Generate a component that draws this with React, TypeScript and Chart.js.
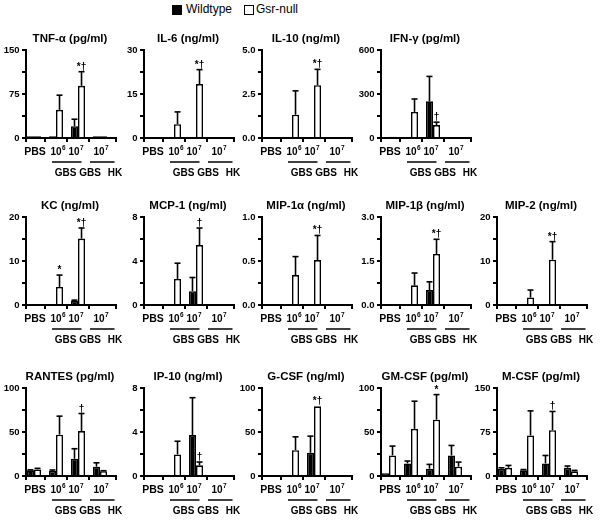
import React, { useEffect, useRef } from 'react';
import { Chart, registerables } from 'chart.js';

Chart.register(...registerables);

const FONT = "'Liberation Sans', Arial, Helvetica, sans-serif";

// ---------- shared labels ----------
const categories = ['PBS', '10⁶', '10⁷', '10⁷'];
const groupLabels = ['GBS', 'GBS', 'HK'];
const seriesNames = ['Wildtype', 'Gsr-null'];

// ---------- data (mean, SD, significance marks) ----------
const tnfWt = [3, 3, 20, 3];
const tnfWtSd = [0, 0, 12, 0];
const tnfNull = [3, 48, 89, 3];
const tnfNullSd = [0, 25, 24, 0];
const tnfMarks = ['', '', '*†', ''];

const il6Wt = [null, null, 0.3, null];
const il6WtSd = [0, 0, 0, 0];
const il6Null = [null, 4.7, 18.4, null];
const il6NullSd = [0, 4.2, 4.9, 0];
const il6Marks = ['', '', '*†', ''];

const il10Wt = [null, null, null, null];
const il10WtSd = [0, 0, 0, 0];
const il10Null = [null, 1.32, 3.0, null];
const il10NullSd = [0, 1.36, 0.9, 0];
const il10Marks = ['', '', '*†', ''];

const ifnWt = [5, null, 250, 3];
const ifnWtSd = [0, 0, 170, 0];
const ifnNull = [8, 178, 88, 2];
const ifnNullSd = [0, 88, 20, 0];
const ifnMarks = ['', '', '†', ''];

const kcWt = [null, null, 0.9, null];
const kcWtSd = [0, 0, 0.2, 0];
const kcNull = [null, 4.1, 15.1, null];
const kcNullSd = [0, 2.7, 2.4, 0];
const kcMarks = ['', '*', '*†', ''];

const mcp1Wt = [null, null, 1.26, null];
const mcp1WtSd = [0, 0, 1.24, 0];
const mcp1Null = [null, 2.37, 5.45, null];
const mcp1NullSd = [0, 1.43, 1.55, 0];
const mcp1Marks = ['', '', '†', ''];

const mip1aWt = [null, null, null, null];
const mip1aWtSd = [0, 0, 0, 0];
const mip1aNull = [null, 0.34, 0.51, null];
const mip1aNullSd = [0, 0.21, 0.28, 0];
const mip1aMarks = ['', '', '*†', ''];

const mip1bWt = [null, null, 0.51, null];
const mip1bWtSd = [0, 0, 0.28, 0];
const mip1bNull = [null, 0.67, 1.74, null];
const mip1bNullSd = [0, 0.42, 0.5, 0];
const mip1bMarks = ['', '', '*†', ''];

const mip2Wt = [null, null, null, null];
const mip2WtSd = [0, 0, 0, 0];
const mip2Null = [null, 1.7, 10.3, null];
const mip2NullSd = [0, 1.7, 4.1, 0];
const mip2Marks = ['', '', '*†', ''];

const rantesWt = [6.4, 5.7, 19.6, 10.6];
const rantesWtSd = [0.6, 1.1, 11.4, 4.4];
const rantesNull = [7.5, 47, 51, 5.5];
const rantesNullSd = [1.2, 21, 20, 0.5];
const rantesMarks = ['', '', '†', ''];

const ip10Wt = [null, null, 3.72, null];
const ip10WtSd = [0, 0, 3.4, 0];
const ip10Null = [null, 1.96, 0.97, null];
const ip10NullSd = [0, 1.2, 0.3, 0];
const ip10Marks = ['', '', '†', ''];

const gcsfWt = [null, null, 26.4, null];
const gcsfWtSd = [0, 0, 18.9, 0];
const gcsfNull = [null, 29.4, 79.2, null];
const gcsfNullSd = [0, 15.1, 0, 0];
const gcsfMarks = ['', '', '*†', ''];

const gmcsfWt = [3, 14.3, 8.3, 23.4];
const gmcsfWtSd = [0, 2.7, 4.9, 11.3];
const gmcsfNull = [23.4, 53.6, 64, 10.6];
const gmcsfNullSd = [10.6, 31.4, 28.5, 5.2];
const gmcsfMarks = ['', '', '*', ''];

const mcsfWt = [12.5, 9.6, 21.5, 14];
const mcsfWtSd = [1.5, 1.4, 13.5, 3];
const mcsfNull = [14, 69, 78, 8];
const mcsfNullSd = [4, 42, 32, 1.6];
const mcsfMarks = ['', '', '†', ''];

// ---------- panels ----------
const panels: any[] = [
  { title: 'TNF-α (pg/ml)', max: 150, dec: 0, wt: tnfWt, wtSd: tnfWtSd, nul: tnfNull, nulSd: tnfNullSd, marks: tnfMarks, row: 0, col: 0 },
  { title: 'IL-6 (ng/ml)', max: 30, dec: 0, wt: il6Wt, wtSd: il6WtSd, nul: il6Null, nulSd: il6NullSd, marks: il6Marks, row: 0, col: 1 },
  { title: 'IL-10 (ng/ml)', max: 5, dec: 1, wt: il10Wt, wtSd: il10WtSd, nul: il10Null, nulSd: il10NullSd, marks: il10Marks, row: 0, col: 2 },
  { title: 'IFN-γ (pg/ml)', max: 600, dec: 0, wt: ifnWt, wtSd: ifnWtSd, nul: ifnNull, nulSd: ifnNullSd, marks: ifnMarks, row: 0, col: 3 },
  { title: 'KC (ng/ml)', max: 20, dec: 0, wt: kcWt, wtSd: kcWtSd, nul: kcNull, nulSd: kcNullSd, marks: kcMarks, row: 1, col: 0 },
  { title: 'MCP-1 (ng/ml)', max: 8, dec: 0, wt: mcp1Wt, wtSd: mcp1WtSd, nul: mcp1Null, nulSd: mcp1NullSd, marks: mcp1Marks, row: 1, col: 1 },
  { title: 'MIP-1α (ng/ml)', max: 1, dec: 1, wt: mip1aWt, wtSd: mip1aWtSd, nul: mip1aNull, nulSd: mip1aNullSd, marks: mip1aMarks, row: 1, col: 2 },
  { title: 'MIP-1β (ng/ml)', max: 3, dec: 1, wt: mip1bWt, wtSd: mip1bWtSd, nul: mip1bNull, nulSd: mip1bNullSd, marks: mip1bMarks, row: 1, col: 3 },
  { title: 'MIP-2 (ng/ml)', max: 20, dec: 0, wt: mip2Wt, wtSd: mip2WtSd, nul: mip2Null, nulSd: mip2NullSd, marks: mip2Marks, row: 1, col: 4 },
  { title: 'RANTES (pg/ml)', max: 100, dec: 0, wt: rantesWt, wtSd: rantesWtSd, nul: rantesNull, nulSd: rantesNullSd, marks: rantesMarks, row: 2, col: 0 },
  { title: 'IP-10 (ng/ml)', max: 8, dec: 0, wt: ip10Wt, wtSd: ip10WtSd, nul: ip10Null, nulSd: ip10NullSd, marks: ip10Marks, row: 2, col: 1 },
  { title: 'G-CSF (ng/ml)', max: 100, dec: 0, wt: gcsfWt, wtSd: gcsfWtSd, nul: gcsfNull, nulSd: gcsfNullSd, marks: gcsfMarks, row: 2, col: 2 },
  { title: 'GM-CSF (pg/ml)', max: 100, dec: 0, wt: gmcsfWt, wtSd: gmcsfWtSd, nul: gmcsfNull, nulSd: gmcsfNullSd, marks: gmcsfMarks, row: 2, col: 3 },
  { title: 'M-CSF (pg/ml)', max: 150, dec: 0, wt: mcsfWt, wtSd: mcsfWtSd, nul: mcsfNull, nulSd: mcsfNullSd, marks: mcsfMarks, row: 2, col: 4 },
];

// ---------- layout ----------
const COL_AXIS_X = [26, 144, 262, 381, 497];
const ROW_TOP = [28, 195, 366];
const CW = 128;
const CH = 152;
const Y_W = 23;
const AXIS_IN = 3;

const SUP: Record<string, string> = { '⁶': '6', '⁷': '7' };

function drawCatLabel(ctx: any, text: string, cx: number, cy: number) {
  const last = text.slice(-1);
  ctx.textBaseline = 'middle';
  if (SUP[last]) {
    const base = text.slice(0, -1);
    ctx.font = `bold 10px ${FONT}`;
    const w1 = ctx.measureText(base).width;
    ctx.font = `bold 6.5px ${FONT}`;
    const w2 = ctx.measureText(SUP[last]).width;
    const x0 = cx - (w1 + w2 + 0.5) / 2;
    ctx.textAlign = 'left';
    ctx.font = `bold 10px ${FONT}`;
    ctx.fillText(base, x0, cy);
    ctx.font = `bold 6.5px ${FONT}`;
    ctx.fillText(SUP[last], x0 + w1 + 0.5, cy - 4);
  } else {
    ctx.textAlign = 'center';
    ctx.font = `bold 10.5px ${FONT}`;
    ctx.fillText(text, cx, cy);
  }
}

function makeDecor(p: any) {
  return {
    id: 'panelDecor',
    afterDatasetsDraw(chart: any) {
      const { ctx, chartArea: ca, scales } = chart;
      const xs = scales.x;
      const ys = scales.y;
      const axisX = ca.left + AXIS_IN;
      const base = ys.getPixelForValue(0);
      const endX = ca.right + 5;
      ctx.save();
      ctx.strokeStyle = '#000';
      ctx.fillStyle = '#000';
      const line = (x1: number, y1: number, x2: number, y2: number) => {
        ctx.beginPath();
        ctx.moveTo(x1, y1);
        ctx.lineTo(x2, y2);
        ctx.stroke();
      };
      // error bars
      ctx.lineWidth = 1.6;
      const series = [
        [p.wt, p.wtSd],
        [p.nul, p.nulSd],
      ];
      series.forEach(([vals, sds]: any, di: number) => {
        const meta = chart.getDatasetMeta(di);
        meta.data.forEach((bar: any, j: number) => {
          const v = vals[j];
          const sd = sds[j];
          if (v == null || !sd) return;
          const yTop = ys.getPixelForValue(v + sd);
          const yBar = ys.getPixelForValue(v);
          line(bar.x, yBar, bar.x, yTop);
          line(bar.x - 3, yTop, bar.x + 3, yTop);
        });
      });
      // significance marks
      const nm = chart.getDatasetMeta(1);
      p.marks.forEach((m: string, j: number) => {
        if (!m) return;
        const v = p.nul[j] ?? 0;
        const sd = p.nulSd[j] || 0;
        const yTop = ys.getPixelForValue(v + sd);
        ctx.font = `bold 10px ${FONT}`;
        ctx.textAlign = 'center';
        ctx.textBaseline = 'alphabetic';
        ctx.fillText(m, nm.data[j].x, yTop - 2);
      });
      // axes
      ctx.lineWidth = 2;
      const topPx = ys.getPixelForValue(p.max);
      line(axisX, topPx - 1, axisX, base + 4);
      line(axisX - 1, base, endX + 1, base);
      ys.ticks.forEach((t: any) => {
        const py = ys.getPixelForValue(t.value);
        line(axisX - 4, py, axisX, py);
      });
      const xt = [endX];
      for (let i = 0; i < categories.length - 1; i++) {
        xt.push((xs.getPixelForValue(i) + xs.getPixelForValue(i + 1)) / 2);
      }
      xt.forEach((px) => line(px, base, px, base + 4));
      // category labels
      const dx = [1, 2, -2, 1];
      categories.forEach((c, i) => {
        drawCatLabel(ctx, c, xs.getPixelForValue(i) + dx[i], base + 14.5);
      });
      // group underlines
      const c1 = xs.getPixelForValue(1);
      const c2 = xs.getPixelForValue(2);
      const c3 = xs.getPixelForValue(3);
      const uy = base + 24;
      ctx.lineWidth = 1.5;
      line(c1 - 4, uy, c2 + 3.5, uy);
      line(c3 - 10, uy, c3 + 14.5, uy);
      ctx.font = `bold 10px ${FONT}`;
      ctx.textAlign = 'center';
      ctx.textBaseline = 'middle';
      const gy = base + 35.5;
      ctx.fillText(groupLabels[0], c1 + 9.5, gy);
      ctx.fillText(groupLabels[1], c3 - 10, gy);
      ctx.fillText(groupLabels[2], c3 + 15, gy);
      // title
      ctx.font = `bold 11.5px ${FONT}`;
      ctx.textAlign = 'center';
      ctx.textBaseline = 'middle';
      ctx.fillText(p.title, axisX + 44, 11);
      ctx.restore();
    },
  };
}

function Panel({ p }: { p: any }) {
  const ref = useRef<HTMLCanvasElement>(null);
  useEffect(() => {
    if (!ref.current) return;
    const chart = new Chart(ref.current, {
      type: 'bar',
      data: {
        labels: categories,
        datasets: [
          {
            label: seriesNames[0],
            data: p.wt,
            backgroundColor: '#000',
            borderColor: '#000',
            borderWidth: 1.6,
            categoryPercentage: 0.64,
            barPercentage: 1,
          },
          {
            label: seriesNames[1],
            data: p.nul,
            backgroundColor: '#fff',
            borderColor: '#000',
            borderWidth: 1.6,
            categoryPercentage: 0.64,
            barPercentage: 1,
          },
        ],
      },
      options: {
        animation: false,
        responsive: false,
        maintainAspectRatio: false,
        devicePixelRatio: 1,
        layout: { padding: { top: 22, left: 0, right: CW - Y_W - 88, bottom: 0 } },
        plugins: { legend: { display: false }, tooltip: { enabled: false }, title: { display: false } },
        scales: {
          x: {
            grid: { display: false, drawTicks: false },
            border: { display: false },
            ticks: { display: false },
            afterFit: (s: any) => {
              s.height = 42;
            },
          },
          y: {
            min: 0,
            max: p.max,
            grid: { display: false, drawTicks: false },
            border: { display: false },
            ticks: {
              count: 5,
              autoSkip: false,
              padding: 3.5,
              color: '#000',
              font: { family: FONT, size: 9.5, weight: 'bold' },
              callback: (v: any, i: number) => (i % 2 === 0 ? Number(v).toFixed(p.dec) : ''),
            },
            afterFit: (s: any) => {
              s.width = Y_W;
            },
          },
        },
      } as any,
      plugins: [makeDecor(p)],
    });
    return () => chart.destroy();
  }, [p]);
  const left = COL_AXIS_X[p.col] - Y_W - AXIS_IN;
  const top = ROW_TOP[p.row];
  return (
    <canvas
      ref={ref}
      width={CW}
      height={CH}
      style={{ position: 'absolute', left, top, width: CW, height: CH }}
    />
  );
}

export default function App() {
  return (
    <div
      style={{
        position: 'absolute',
        left: 0,
        top: 0,
        width: 600,
        height: 520,
        background: '#fff',
        fontFamily: FONT,
        overflow: 'hidden',
      }}
    >
      <div style={{ position: 'absolute', left: 172, top: 5, width: 10, height: 10, background: '#000' }} />
      <span style={{ position: 'absolute', left: 186, top: 2, fontSize: 12, lineHeight: '15px', color: '#000' }}>
        {seriesNames[0]}
      </span>
      <div
        style={{
          position: 'absolute',
          left: 244,
          top: 5,
          width: 10,
          height: 10,
          background: '#fff',
          border: '1.5px solid #000',
          boxSizing: 'border-box',
        }}
      />
      <span style={{ position: 'absolute', left: 256, top: 2, fontSize: 12, lineHeight: '15px', color: '#000' }}>
        {seriesNames[1]}
      </span>
      {panels.map((p, i) => (
        <Panel key={i} p={p} />
      ))}
    </div>
  );
}
